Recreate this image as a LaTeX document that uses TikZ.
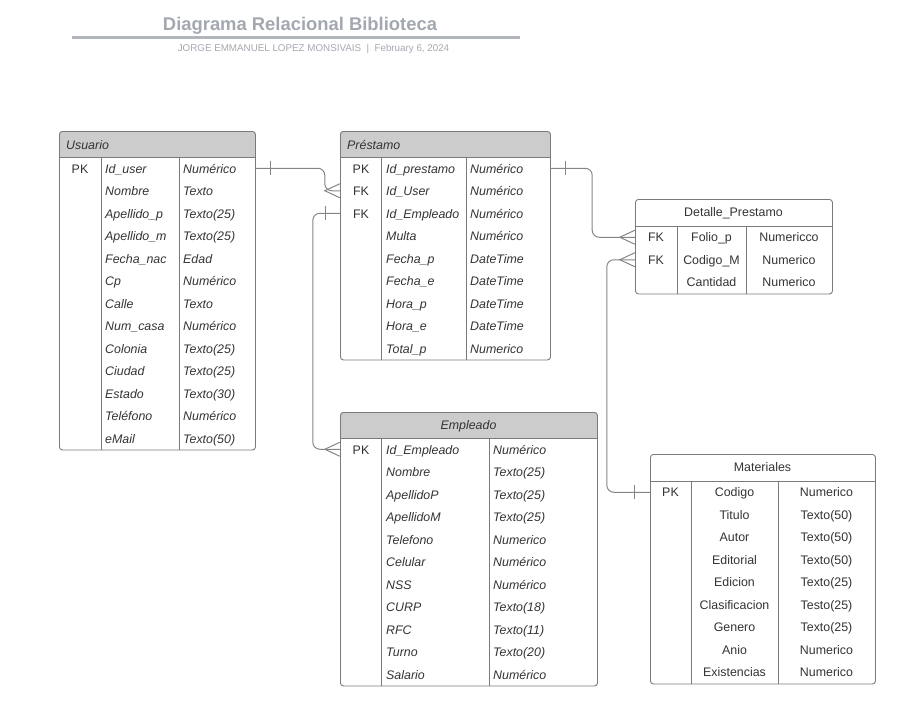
\documentclass[tikz,border=0pt]{standalone}
\usepackage{fontspec}
\setmainfont{Liberation Sans}
\usetikzlibrary{calc}
\definecolor{hdr}{HTML}{CCCCCC}
\definecolor{bord}{HTML}{7A7A7A}
\definecolor{linkc}{HTML}{858585}
\definecolor{txt}{HTML}{333333}
\definecolor{ttl}{HTML}{A3A8B0}
\tikzset{
  tbl/.style={draw=bord, line width=0.9pt, rounded corners=3pt, inner sep=0pt, anchor=north west},
  rowbox/.style={inner sep=0pt, minimum height=22.5pt},
  cell/.style={inner sep=0pt, text=txt, font=\fontsize{12.4}{14}\selectfont},
  itc/.style={inner sep=0pt, text=txt, font=\fontsize{12.4}{14}\selectfont\itshape},
  sep/.style={draw=bord, line width=0.9pt},
  link/.style={draw=linkc, line width=1pt, rounded corners=7pt},
  foot/.style={draw=linkc, line width=1pt},
}
\begin{document}
\begin{tikzpicture}[x=1pt,y=-1pt]
\useasboundingbox (0,0) rectangle (917,718);

% ---------- title ----------
\node[inner sep=0pt, anchor=base, text=ttl, font=\fontsize{18.4}{20}\selectfont\bfseries] (title) at (300,30.5) {Diagrama Relacional Biblioteca};
\draw[draw=ttl!85, line width=2.2pt] (72,37.5) -- (520,37.5);
\node[inner sep=0pt, anchor=base, text=ttl, font=\fontsize{9.8}{11}\selectfont] (subtitle) at (313.5,51.8) {JORGE EMMANUEL LOPEZ MONSIVAIS \ |\ \ February 6, 2024};

% ---------- Usuario ----------
\fill[hdr] (59,157) [rounded corners=3pt]-- (59,131) -- (255,131) [sharp corners]-- (255,157) -- cycle;
\node[tbl, minimum width=196pt, minimum height=318.5pt] (usuario) at (59,131) {};
\draw[sep] (59,157) -- (255,157);
\draw[sep] (101,157) -- (101,449.5);
\draw[sep] (179,157) -- (179,449.5);
\node[itc, anchor=base west] (usuario-title) at (66,149) {Usuario};
\foreach \n/\t [count=\i] in {Id\_user/Numérico, Nombre/Texto, Apellido\_p/Texto(25), Apellido\_m/Texto(25), Fecha\_nac/Edad, Cp/Numérico, Calle/Texto, Num\_casa/Numérico, Colonia/Texto(25), Ciudad/Texto(25), Estado/Texto(30), Teléfono/Numérico, eMail/Texto(50)}{
  \pgfmathsetmacro\yy{168.25+(\i-1)*22.5}
  \node[rowbox, minimum width=196pt] (U\i) at (157,\yy) {};
  \node[itc, anchor=base west] (U\i-n) at (105,\yy+5.1) {\n};
  \node[itc, anchor=base west] (U\i-t) at (183,\yy+5.1) {\t};
}
\node[cell, anchor=base] (U1-k) at (80,173.35) {PK};

% ---------- Prestamo ----------
\fill[hdr] (340,157) [rounded corners=3pt]-- (340,131) -- (550,131) [sharp corners]-- (550,157) -- cycle;
\node[tbl, minimum width=210pt, minimum height=228.5pt] (prestamo) at (340,131) {};
\draw[sep] (340,157) -- (550,157);
\draw[sep] (381,157) -- (381,359.5);
\draw[sep] (466,157) -- (466,359.5);
\node[itc, anchor=base west] (prestamo-title) at (347,149) {Préstamo};
\foreach \n/\t [count=\i] in {Id\_prestamo/Numérico, Id\_User/Numérico, Id\_Empleado/Numérico, Multa/Numérico, Fecha\_p/DateTime, Fecha\_e/DateTime, Hora\_p/DateTime, Hora\_e/DateTime, Total\_p/Numerico}{
  \pgfmathsetmacro\yy{168.25+(\i-1)*22.5}
  \node[rowbox, minimum width=210pt] (P\i) at (445,\yy) {};
  \node[itc, anchor=base west] (P\i-n) at (386,\yy+5.1) {\n};
  \node[itc, anchor=base west] (P\i-t) at (470,\yy+5.1) {\t};
}
\node[cell, anchor=base] (P1-k) at (361,173.35) {PK};
\node[cell, anchor=base] (P2-k) at (361,195.85) {FK};
\node[cell, anchor=base] (P3-k) at (361,218.35) {FK};

% ---------- Detalle_Prestamo ----------
\node[tbl, minimum width=197pt, minimum height=94.5pt] (detalle) at (635,199) {};
\draw[sep] (635,226) -- (832,226);
\draw[sep] (677,226) -- (677,293.5);
\draw[sep] (746,226) -- (746,293.5);
\node[cell, anchor=base] (detalle-title) at (733.5,216.6) {Detalle\_Prestamo};
\foreach \k/\n/\t [count=\i] in {FK/Folio\_p/Numericco, FK/Codigo\_M/Numerico, {}/Cantidad/Numerico}{
  \pgfmathsetmacro\yy{237.25+(\i-1)*22.5}
  \node[rowbox, minimum width=197pt] (D\i) at (733.5,\yy) {};
  \node[cell, anchor=base] (D\i-k) at (656,\yy+4.4) {\k};
  \node[cell, anchor=base] (D\i-n) at (711.5,\yy+4.4) {\n};
  \node[cell, anchor=base] (D\i-t) at (789,\yy+4.4) {\t};
}

% ---------- Empleado ----------
\fill[hdr] (340,438) [rounded corners=3pt]-- (340,412) -- (597,412) [sharp corners]-- (597,438) -- cycle;
\node[tbl, minimum width=257pt, minimum height=273.5pt] (empleado) at (340,412) {};
\draw[sep] (340,438) -- (597,438);
\draw[sep] (381,438) -- (381,685.5);
\draw[sep] (489,438) -- (489,685.5);
\node[itc, anchor=base] (empleado-title) at (468.5,429.6) {Empleado};
\foreach \n/\t [count=\i] in {Id\_Empleado/Numérico, Nombre/Texto(25), ApellidoP/Texto(25), ApellidoM/Texto(25), Telefono/Numerico, Celular/Numérico, NSS/Numérico, CURP/Texto(18), RFC/Texto(11), Turno/Texto(20), Salario/Numérico}{
  \pgfmathsetmacro\yy{449.25+(\i-1)*22.5}
  \node[rowbox, minimum width=257pt] (E\i) at (468.5,\yy) {};
  \node[itc, anchor=base west] (E\i-n) at (386,\yy+5.1) {\n};
  \node[itc, anchor=base west] (E\i-t) at (493,\yy+5.1) {\t};
}
\node[cell, anchor=base] (E1-k) at (361,454.35) {PK};

% ---------- Materiales ----------
\node[tbl, minimum width=225pt, minimum height=229.5pt] (materiales) at (650,454) {};
\draw[sep] (650,481) -- (875,481);
\draw[sep] (691,481) -- (691,683.5);
\draw[sep] (778,481) -- (778,683.5);
\node[cell, anchor=base] (materiales-title) at (762.5,471.6) {Materiales};
\foreach \n/\t [count=\i] in {Codigo/Numerico, Titulo/Texto(50), Autor/Texto(50), Editorial/Texto(50), Edicion/Texto(25), Clasificacion/Testo(25), Genero/Texto(25), Anio/Numerico, Existencias/Numerico}{
  \pgfmathsetmacro\yy{492.25+(\i-1)*22.5}
  \node[rowbox, minimum width=225pt] (M\i) at (762.5,\yy) {};
  \node[cell, anchor=base] (M\i-n) at (734.5,\yy+4.6) {\n};
  \node[cell, anchor=base] (M\i-t) at (826.5,\yy+4.6) {\t};
}
\node[cell, anchor=base] (M1-k) at (670.5,496.85) {PK};

% ---------- connectors ----------
% Usuario -> Prestamo (Id_User)
\draw[link] (U1.east) -| ($(P2.west)+(-15,0)$) -- (P2.west);
\draw[foot] ($(U1.east)+(15,-7)$) -- ($(U1.east)+(15,7)$);
\draw[foot] ($(P2.west)+(0,-7)$) -- ($(P2.west)+(-15,0)$) -- ($(P2.west)+(0,7)$);

% Prestamo (Id_Empleado) -> Empleado
\draw[link] (P3.west) -- ($(P3.west)+(-27,0)$) |- (E1.west);
\draw[foot] ($(P3.west)+(-14,-7)$) -- ($(P3.west)+(-14,7)$);
\draw[foot] ($(E1.west)+(0,-7)$) -- ($(E1.west)+(-15,0)$) -- ($(E1.west)+(0,7)$);

% Prestamo -> Detalle_Prestamo (Folio_p)
\draw[link] (P1.east) -- ($(P1.east)+(42,0)$) |- (D1.west);
\draw[foot] ($(P1.east)+(15,-7)$) -- ($(P1.east)+(15,7)$);
\draw[foot] ($(D1.west)+(0,-7)$) -- ($(D1.west)+(-15,0)$) -- ($(D1.west)+(0,7)$);

% Materiales -> Detalle_Prestamo (Codigo_M)
\draw[link] (M1.west) -- ($(M1.west)+(-43,0)$) |- (D2.west);
\draw[foot] ($(M1.west)+(-15,-7)$) -- ($(M1.west)+(-15,7)$);
\draw[foot] ($(D2.west)+(0,-7)$) -- ($(D2.west)+(-15,0)$) -- ($(D2.west)+(0,7)$);
\end{tikzpicture}
\end{document}
